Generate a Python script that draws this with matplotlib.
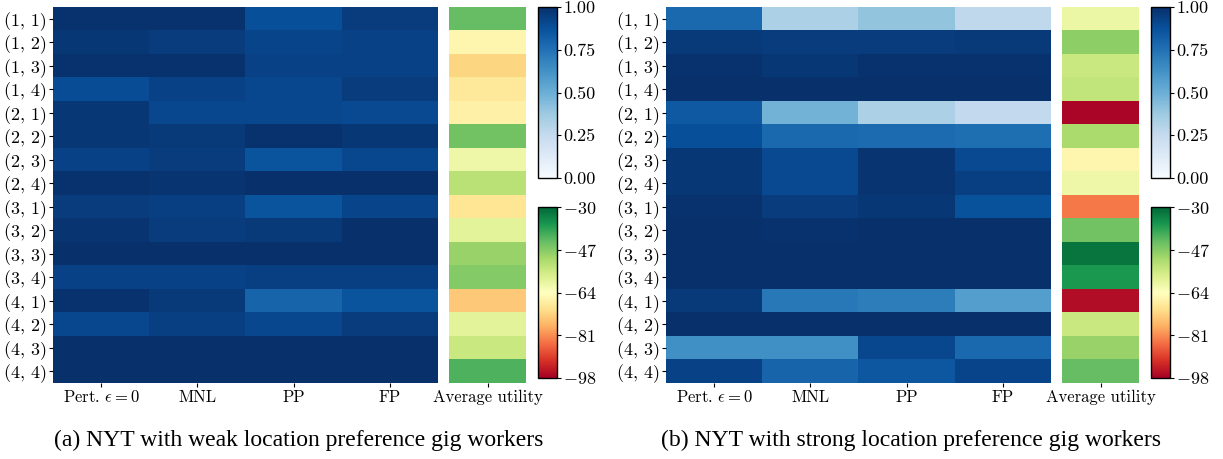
import numpy as np
import matplotlib.pyplot as plt

plt.rcParams.update({
    'font.family': 'cmr10',
    'mathtext.fontset': 'cm',
    'axes.formatter.use_mathtext': True,
    'font.size': 13,
})

rows = ['(1, 1)', '(1, 2)', '(1, 3)', '(1, 4)',
        '(2, 1)', '(2, 2)', '(2, 3)', '(2, 4)',
        '(3, 1)', '(3, 2)', '(3, 3)', '(3, 4)',
        '(4, 1)', '(4, 2)', '(4, 3)', '(4, 4)']
methods = [r'Pert. $\epsilon = 0$', 'MNL', 'PP', 'FP']

# panel (a): weak location preference
weak_vals = [
    [0.99, 0.99, 0.88, 0.95],
    [0.97, 0.95, 0.92, 0.93],
    [0.99, 0.99, 0.93, 0.93],
    [0.89, 0.93, 0.91, 0.95],
    [0.97, 0.91, 0.91, 0.90],
    [0.97, 0.96, 0.99, 0.97],
    [0.93, 0.95, 0.86, 0.91],
    [0.99, 0.98, 1.00, 1.00],
    [0.95, 0.94, 0.86, 0.92],
    [0.98, 0.95, 0.96, 1.00],
    [1.00, 1.00, 1.00, 1.00],
    [0.93, 0.93, 0.94, 0.94],
    [0.99, 0.96, 0.80, 0.86],
    [0.91, 0.94, 0.91, 0.95],
    [1.00, 1.00, 1.00, 1.00],
    [1.00, 1.00, 1.00, 1.00],
]
weak_util = [-43.6, -66, -72, -69, -67, -45, -61, -53,
             -69.5, -59, -49, -47, -74, -59, -55, -41.5]

# panel (b): strong location preference
strong_vals = [
    [0.78, 0.33, 0.40, 0.27],
    [0.96, 0.95, 0.95, 0.96],
    [0.99, 0.97, 0.99, 0.99],
    [1.00, 1.00, 1.00, 1.00],
    [0.84, 0.48, 0.33, 0.26],
    [0.88, 0.78, 0.77, 0.76],
    [0.97, 0.90, 0.98, 0.90],
    [0.97, 0.90, 0.98, 0.94],
    [0.99, 0.95, 0.97, 0.87],
    [1.00, 0.99, 1.00, 1.00],
    [1.00, 1.00, 1.00, 1.00],
    [1.00, 1.00, 1.00, 1.00],
    [0.96, 0.72, 0.70, 0.57],
    [1.00, 1.00, 1.00, 1.00],
    [0.63, 0.63, 0.91, 0.78],
    [0.93, 0.80, 0.85, 0.92],
]
strong_util = [-60.6, -48, -55, -54, -97, -51, -66, -61,
               -83, -45, -32, -37, -96, -55, -49, -43.6]

captions = ['(a) NYT with weak location preference gig workers',
            '(b) NYT with strong location preference gig workers']

W, H = 1223, 459
fig = plt.figure(figsize=(W / 100, H / 100), dpi=100)


def px_axes(x0, y0, x1, y1):
    # pixel box (top-left origin) -> figure fraction
    return fig.add_axes([x0 / W, 1 - y1 / H, (x1 - x0) / W, (y1 - y0) / H])


def draw_panel(x_off, vals, util, caption, cx):
    vals = np.array(vals)
    util = np.array(util).reshape(-1, 1)
    ax = px_axes(x_off + 53, 7, x_off + 438, 383)
    im = ax.imshow(vals, cmap='Blues', vmin=0, vmax=1, aspect='auto',
                   interpolation='nearest')
    ax.set_yticks(range(len(rows)))
    ax.set_yticklabels(rows, fontsize=13)
    ax.set_xticks(range(len(methods)))
    ax.set_xticklabels(methods, fontsize=12)
    ax.tick_params(length=3, width=0.8, pad=1.5)
    for s in ax.spines.values():
        s.set_visible(False)

    axu = px_axes(x_off + 449, 7, x_off + 526, 383)
    im2 = axu.imshow(util, cmap='RdYlGn', vmin=-98, vmax=-30, aspect='auto',
                     interpolation='nearest')
    axu.set_yticks([])
    axu.set_xticks([0])
    axu.set_xticklabels(['Average utility'], fontsize=12)
    axu.tick_params(length=3, width=0.8, pad=1.5)
    for s in axu.spines.values():
        s.set_visible(False)

    cax1 = px_axes(x_off + 538, 7, x_off + 557, 178)
    cb1 = fig.colorbar(im, cax=cax1, ticks=[0, 0.25, 0.5, 0.75, 1.0])
    cb1.ax.set_yticklabels(['0.00', '0.25', '0.50', '0.75', '1.00'])
    cax2 = px_axes(x_off + 538, 207, x_off + 557, 378)
    cb2 = fig.colorbar(im2, cax=cax2, ticks=np.linspace(-30, -98, 5))
    cb2.ax.set_yticklabels([r'$-30$', r'$-47$', r'$-64$', r'$-81$', r'$-98$'])
    for cb in (cb1, cb2):
        cb.ax.tick_params(length=3, width=0.8, pad=1.5, labelsize=13)
        cb.outline.set_linewidth(1.0)

    fig.text(cx / W, 1 - 440 / H, caption, ha='center', va='center',
             fontsize=17, family='Liberation Serif')


draw_panel(0, weak_vals, weak_util, captions[0], 299)
draw_panel(613, strong_vals, strong_util, captions[1], 911)

fig.savefig('out.png', dpi=100)
